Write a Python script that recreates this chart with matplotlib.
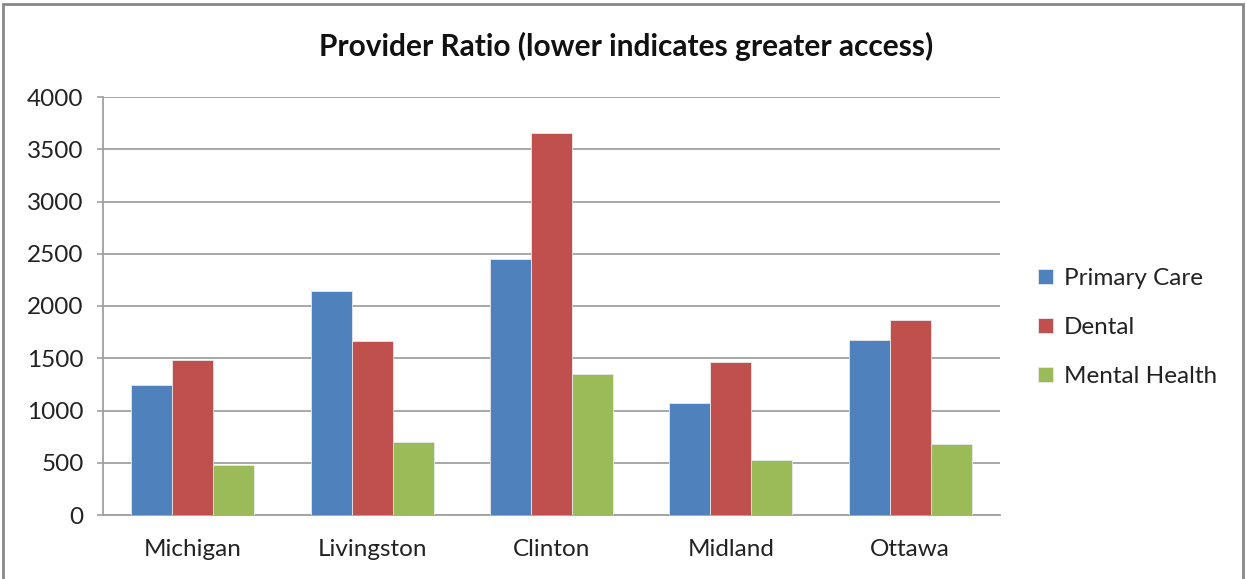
import numpy as np
import matplotlib
matplotlib.use("Agg")
import matplotlib.pyplot as plt
from matplotlib.patches import Rectangle

counties = ["Michigan", "Livingston", "Clinton", "Midland", "Ottawa"]
series_names = ["Primary Care", "Dental", "Mental Health"]
primary_care = [1245, 2143, 2454, 1072, 1676]
dental = [1481, 1667, 3656, 1468, 1865]
mental_health = [483, 694, 1347, 531, 681]
colors = ["#4F81BD", "#C0504D", "#9BBB59"]
y_ticks = [0, 500, 1000, 1500, 2000, 2500, 3000, 3500, 4000]

plt.rcParams["font.family"] = ["Lato", "DejaVu Sans"]

fig = plt.figure(figsize=(12.46, 5.79), dpi=100)
ax = fig.add_axes([103 / 1246, 1 - 515 / 579, 897 / 1246, 418 / 579])

x = np.arange(len(counties))
w = 0.2285
for i, (vals, name) in enumerate(zip([primary_care, dental, mental_health], series_names)):
    ax.bar(x + (i - 1) * w, vals, w, color=colors[i], label=name,
           edgecolor="#e8e8e8", linewidth=0.6, zorder=3)

ax.set_xlim(-0.5, len(counties) - 0.5)
ax.set_ylim(0, 4000)
ax.set_yticks(y_ticks)
ax.set_yticklabels([str(t) for t in y_ticks], fontsize=17.5, color="#222222")
ax.set_xticks(x)
ax.set_xticklabels(counties, fontsize=17.5, color="#222222")
ax.tick_params(axis="x", length=0, pad=17)
ax.tick_params(axis="y", length=4, width=1.2, color="#a0a0a0", pad=10)

ax.grid(axis="y", color="#a0a0a0", linewidth=1.3, zorder=0)
for s in ["top", "right"]:
    ax.spines[s].set_visible(False)
for s in ["left", "bottom"]:
    ax.spines[s].set_color("#a0a0a0")
    ax.spines[s].set_linewidth(1.3)

fig.text(626 / 1246, 1 - 46 / 579, "Provider Ratio (lower indicates greater access)",
         ha="center", va="center", fontsize=21.5, fontweight="bold", color="#111111")

leg = ax.legend(loc="center left", bbox_to_anchor=(1.018, 0.448), frameon=False,
                fontsize=17.5, handlelength=0.6, handleheight=0.6,
                handletextpad=0.45, labelspacing=1.15)
for t in leg.get_texts():
    t.set_color("#222222")

# outer chart border
fig.patches.append(Rectangle((3 / 1246, -0.02), 1240 / 1246, 1.0 - 4 / 579 + 0.02,
                             transform=fig.transFigure, fill=False,
                             edgecolor="#888888", linewidth=2))

fig.savefig("out.png", dpi=100)
